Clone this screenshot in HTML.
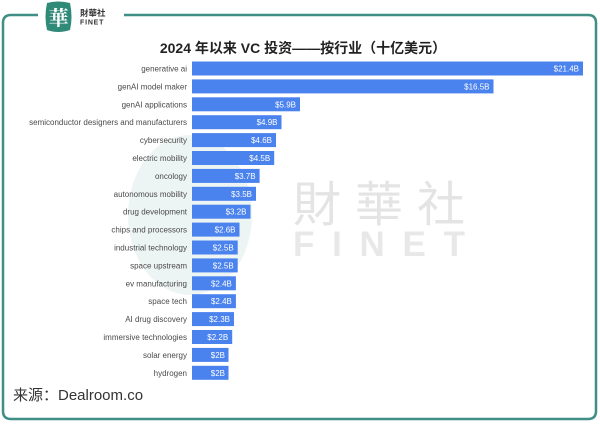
<!DOCTYPE html>
<html><head><meta charset="utf-8"><style>
html,body{margin:0;padding:0;background:#fff;}
svg{display:block;}
</style></head><body>
<svg width="600" height="436" viewBox="0 0 600 436" xmlns="http://www.w3.org/2000/svg">
<rect width="600" height="436" fill="#fff"/>
<!-- frame -->
<path d="M38 15 L11 15 Q3 15 3 23 L3 411 Q3 419 11 419 L588 419 Q596 419 596 411 L596 23 Q596 15 588 15 L124 15" fill="none" stroke="#3f8f86" stroke-width="2.5"/>
<!-- logo -->
<path d="M47 3 Q58 0 70 3 Q73 17 70 30 Q58 34 47 30 Q44 17 47 3 Z" fill="#2f8a78"/>
<text x="58.5" y="25" font-family="'Noto Serif CJK SC','Noto Sans CJK SC',serif" font-size="20" font-weight="bold" fill="#fff" text-anchor="middle">華</text>
<text x="80" y="16" font-family="'Noto Sans CJK TC','Noto Sans CJK SC',sans-serif" font-size="8.5" font-weight="bold" fill="#333">財華社</text>
<text x="80" y="24.5" font-family="'Liberation Sans',sans-serif" font-size="7" font-weight="bold" fill="#333" letter-spacing="0.8">FINET</text>
<!-- watermarks -->
<ellipse cx="190" cy="215" rx="62" ry="80" fill="#e9f2f1" opacity="0.8"/>
<text x="293" y="221" font-family="'Noto Sans CJK TC','Noto Sans CJK SC',sans-serif" font-size="48" fill="#e4e4e4" textLength="172">財華社</text>
<text x="293" y="256" font-family="'Liberation Sans',sans-serif" font-size="35" font-weight="bold" fill="#e8e8e8" textLength="172" lengthAdjust="spacing">FINET</text>
<!-- title -->
<text x="303" y="53" font-family="'Liberation Sans','Noto Sans CJK SC',sans-serif" font-size="14" font-weight="bold" fill="#222" text-anchor="middle">2024 年以来 VC 投资——按行业（十亿美元）</text>
<!-- bars -->
<g font-family="'Liberation Sans',sans-serif" font-size="8">
<g fill="#4a4a4a" text-anchor="end">
<text x="187" y="71.5">generative ai</text>
<text x="187" y="89.4">genAI model maker</text>
<text x="187" y="107.3">genAI applications</text>
<text x="187" y="125.2">semiconductor designers and manufacturers</text>
<text x="187" y="143.1">cybersecurity</text>
<text x="187" y="161.0">electric mobility</text>
<text x="187" y="178.9">oncology</text>
<text x="187" y="196.8">autonomous mobility</text>
<text x="187" y="214.7">drug development</text>
<text x="187" y="232.6">chips and processors</text>
<text x="187" y="250.5">industrial technology</text>
<text x="187" y="268.4">space upstream</text>
<text x="187" y="286.3">ev manufacturing</text>
<text x="187" y="304.2">space tech</text>
<text x="187" y="322.1">AI drug discovery</text>
<text x="187" y="340.0">immersive technologies</text>
<text x="187" y="357.9">solar energy</text>
<text x="187" y="375.8">hydrogen</text>
</g>
<g fill="#4a82ee">
<rect x="192" y="61.5" width="391" height="14"/>
<rect x="192" y="79.4" width="301.5" height="14"/>
<rect x="192" y="97.3" width="108" height="14"/>
<rect x="192" y="115.2" width="89.5" height="14"/>
<rect x="192" y="133.1" width="84" height="14"/>
<rect x="192" y="151.0" width="82.2" height="14"/>
<rect x="192" y="168.9" width="67.6" height="14"/>
<rect x="192" y="186.8" width="64" height="14"/>
<rect x="192" y="204.7" width="58.5" height="14"/>
<rect x="192" y="222.6" width="47.5" height="14"/>
<rect x="192" y="240.5" width="45.7" height="14"/>
<rect x="192" y="258.4" width="45.7" height="14"/>
<rect x="192" y="276.3" width="43.9" height="14"/>
<rect x="192" y="294.2" width="43.9" height="14"/>
<rect x="192" y="312.1" width="42" height="14"/>
<rect x="192" y="330.0" width="40.2" height="14"/>
<rect x="192" y="347.9" width="36.5" height="14"/>
<rect x="192" y="365.8" width="36.5" height="14"/>
</g>
<g fill="#fff" text-anchor="end">
<text x="579" y="71.5">$21.4B</text>
<text x="489.5" y="89.4">$16.5B</text>
<text x="296" y="107.3">$5.9B</text>
<text x="277.5" y="125.2">$4.9B</text>
<text x="272" y="143.1">$4.6B</text>
<text x="270.2" y="161.0">$4.5B</text>
<text x="255.6" y="178.9">$3.7B</text>
<text x="252" y="196.8">$3.5B</text>
<text x="246.5" y="214.7">$3.2B</text>
<text x="235.5" y="232.6">$2.6B</text>
<text x="233.7" y="250.5">$2.5B</text>
<text x="233.7" y="268.4">$2.5B</text>
<text x="231.9" y="286.3">$2.4B</text>
<text x="231.9" y="304.2">$2.4B</text>
<text x="230" y="322.1">$2.3B</text>
<text x="228.2" y="340.0">$2.2B</text>
<text x="225" y="357.9">$2B</text>
<text x="225" y="375.8">$2B</text>
</g>
</g>
<!-- source -->
<text x="13" y="400" font-family="'Liberation Sans','Noto Sans CJK SC',sans-serif" font-size="15" fill="#333">来源：Dealroom.co</text>
</svg>
</body></html>
